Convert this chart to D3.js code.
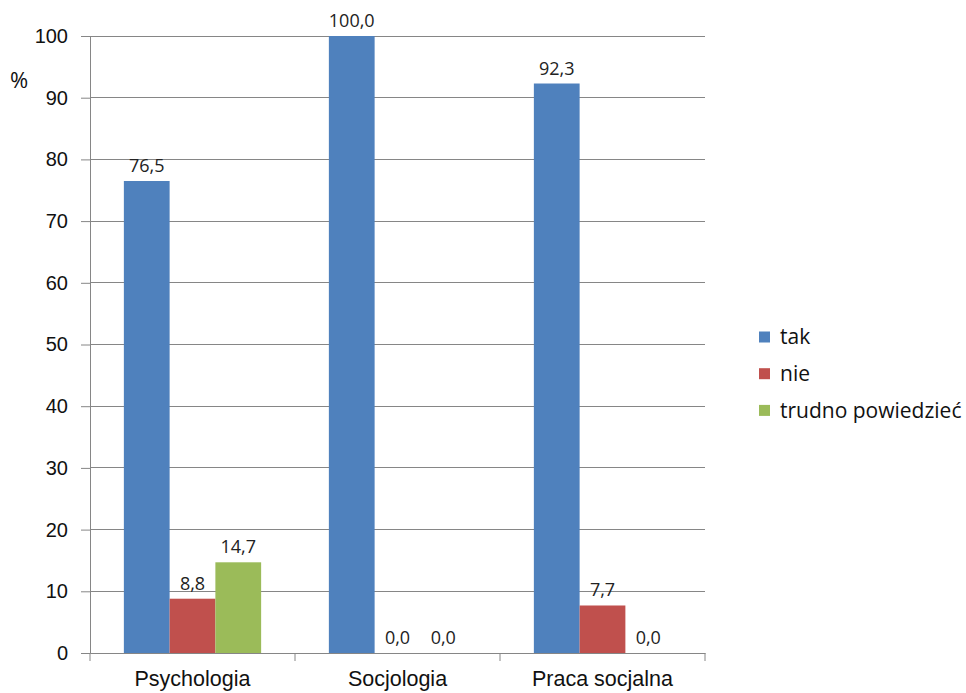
<!DOCTYPE html>
<html>
<head>
<meta charset="utf-8">
<script src="https://cdn.jsdelivr.net/npm/d3@7"></script>
<style>
  body { margin: 0; background: #fff; }
  svg { font-family: "Open Sans", sans-serif; }
</style>
</head>
<body>
<div id="chart"></div>
<script>
// data
const categories = ["Psychologia", "Socjologia", "Praca socjalna"];
const seriesNames = ["tak", "nie", "trudno powiedzieć"];
const tak = [76.5, 100.0, 92.3];
const nie = [8.8, 0.0, 7.7];
const trudno = [14.7, 0.0, 0.0];
const yTicks = [0, 10, 20, 30, 40, 50, 60, 70, 80, 90, 100];
const colors = ["#4F81BD", "#C0504D", "#9BBB59"];

const W = 966, H = 693;
const margin = { top: 36, right: 261, bottom: 40, left: 90 };
const width = W - margin.left - margin.right;
const height = H - margin.top - margin.bottom;

const table = categories.map((c, i) => ({
  category: c,
  values: [tak[i], nie[i], trudno[i]].map((v, j) => ({ key: seriesNames[j], value: v, color: colors[j] }))
}));

const svg = d3.select("#chart").append("svg")
  .attr("width", W).attr("height", H);

const g = svg.append("g").attr("transform", `translate(${margin.left},${margin.top})`);

const x0 = d3.scaleBand().domain(categories).range([0, width]).padding(0);
const x1 = d3.scaleBand().domain(seriesNames).range([0, x0.bandwidth()])
  .paddingInner(0).paddingOuter(0.74);
const y = d3.scaleLinear().domain([0, 100]).range([height, 0]);

// gridlines
g.append("g").selectAll("line").data(yTicks.filter(t => t > 0)).enter().append("line")
  .attr("x1", 0).attr("x2", width)
  .attr("y1", d => y(d)).attr("y2", d => y(d))
  .attr("stroke", "#868686").attr("stroke-width", 1).attr("shape-rendering", "crispEdges");

// y axis
const yAxis = g.append("g").call(d3.axisLeft(y).tickValues(yTicks).tickSize(9).tickPadding(13).tickFormat(d3.format("d")));
yAxis.select(".domain").attr("stroke", "#868686");
yAxis.selectAll(".tick line").attr("stroke", "#868686");
yAxis.selectAll("text").attr("font-size", 20).attr("fill", "#111");

// bars
const groups = g.selectAll(".grp").data(table).enter().append("g")
  .attr("transform", d => `translate(${x0(d.category)},0)`);

groups.selectAll("rect").data(d => d.values).enter().append("rect")
  .attr("x", d => x1(d.key))
  .attr("width", x1.bandwidth())
  .attr("y", d => y(d.value))
  .attr("height", d => height - y(d.value))
  .attr("fill", d => d.color);

groups.selectAll("text").data(d => d.values).enter().append("text")
  .attr("x", d => x1(d.key) + x1.bandwidth() / 2)
  .attr("y", d => y(d.value) - 9)
  .attr("text-anchor", "middle")
  .attr("font-size", 18)
  .attr("fill", "#222")
  .text(d => d.value.toFixed(1).replace(".", ","));

// x axis
const xAxis = g.append("g").attr("transform", `translate(0,${height})`)
  .call(d3.axisBottom(x0).tickSize(0).tickPadding(0));
xAxis.select(".domain").attr("stroke", "#868686");
xAxis.selectAll(".tick text").attr("dy", null).attr("y", 33)
  .attr("font-size", 21.5).attr("fill", "#111");
xAxis.selectAll(".sep").data(d3.range(categories.length + 1)).enter().append("line")
  .attr("x1", i => i * x0.step()).attr("x2", i => i * x0.step())
  .attr("y1", 0).attr("y2", 8)
  .attr("stroke", "#868686");

// % label
svg.append("text").attr("x", 10).attr("y", 88).attr("font-size", 22).attr("fill", "#111").text("%");

// legend
const legend = svg.append("g").attr("transform", "translate(759,337)");
const li = legend.selectAll("g").data(seriesNames).enter().append("g")
  .attr("transform", (d, i) => `translate(0,${i * 36.7})`);
li.append("rect").attr("x", 0).attr("y", -5.5).attr("width", 11).attr("height", 11)
  .attr("fill", (d, i) => colors[i]);
li.append("text").attr("x", 21).attr("y", 0).attr("dy", "0.35em")
  .attr("font-size", 21).attr("fill", "#111").text(d => d);
</script>
</body>
</html>
